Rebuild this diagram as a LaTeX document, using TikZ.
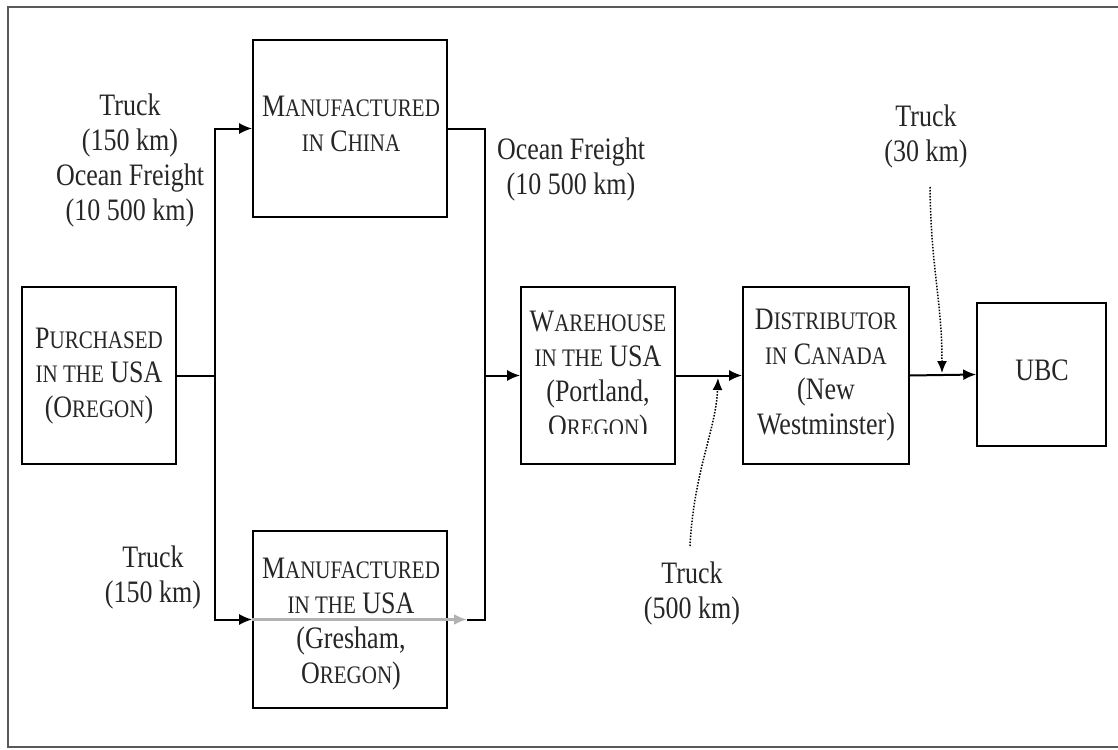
\documentclass[tikz,border=0pt]{standalone}
\usepackage{fontspec}
\setmainfont{Liberation Serif}
\usepackage{graphicx}
\usetikzlibrary{arrows.meta}
\newcommand\stx[1]{\scalebox{1}[1.2]{\fontsize{26}{29}\selectfont\begin{tabular}{@{}c@{}}#1\end{tabular}}}
\newcommand\smc[1]{{\fontsize{21}{29}\selectfont #1}}
\tikzset{
  box/.style={draw, line width=1.6pt, inner sep=0pt},
  lbl/.style={inner sep=0pt, text=black!85},
  conn/.style={line width=2pt},
  arr/.style={conn, -{Latex[length=13pt,width=11pt]}},
  grayarr/.style={line width=2.6pt, draw=black!30, -{Latex[length=13pt,width=11pt]}},
  dotarr/.style={line width=1.5pt, dash pattern=on 1.5pt off 1.5pt, -{Latex[length=12pt,width=10pt]}},
}
\begin{document}
\begin{tikzpicture}[x=1pt,y=-1pt]
\useasboundingbox (0,0) rectangle (1118,749);
\draw[black!65, line width=1.6pt] (8,7) rectangle (1135,747);

% boxes
\node[box, minimum width=154pt, minimum height=177pt] (pur) at (99,375.5) {};
\node[box, minimum width=194pt, minimum height=177pt] (chi) at (350,128.5) {};
\node[box, minimum width=194pt, minimum height=177pt] (usa) at (350,619.5) {};
\node[box, minimum width=154pt, minimum height=177pt] (wh) at (598,375.5) {};
\node[box, minimum width=166pt, minimum height=177pt] (dis) at (826,375.5) {};
\node[box, minimum width=129pt, minimum height=143pt] (ubc) at (1041.5,374.5) {};

% box texts
\node[lbl] (tpur) at (99,376) {\stx{P\smc{URCHASED}\\\smc{IN THE} USA\\(O\smc{REGON})}};
\node[lbl] (tchi) at (351,127) {\stx{M\smc{ANUFACTURED}\\\smc{IN} C\smc{HINA}}};
\node[lbl] (tusa) at (351,624) {\stx{M\smc{ANUFACTURED}\\\smc{IN THE} USA\\(Gresham,\\O\smc{REGON})}};
\begin{scope}
\clip (521,287) rectangle (675,433);
\node[lbl] (twh) at (598,377) {\stx{W\smc{AREHOUSE}\\\smc{IN THE} USA\\(Portland,\\O\smc{REGON})}};
\end{scope}
\node[lbl] (tdis) at (826,375) {\stx{D\smc{ISTRIBUTOR}\\\smc{IN} C\smc{ANADA}\\(New\\Westminster)}};
\node[lbl] (tubc) at (1042,374) {\stx{UBC}};

% labels
\node[lbl] (l1) at (130,161) {\stx{Truck\\(150 km)\\Ocean Freight\\(10 500 km)}};
\node[lbl] (l2) at (571,170) {\stx{Ocean Freight\\(10 500 km)}};
\node[lbl] (l3) at (153,578) {\stx{Truck\\(150 km)}};
\node[lbl] (l4) at (692,594) {\stx{Truck\\(500 km)}};
\node[lbl] (l5) at (926,137) {\stx{Truck\\(30 km)}};

% junctions
\coordinate (jl) at (215,375.5);
\coordinate (jr) at (485,375.5);
\coordinate (gtip) at (467,619.5);
\coordinate (d5s) at (690,546);
\coordinate (d5e) at (718,378);
\coordinate (d30s) at (930,187);
\coordinate (d30e) at (942,373);

% connectors
\draw[conn] (pur.east) -- (jl);
\draw[arr] (jl) |- (chi.west);
\draw[grayarr] (usa.west) -- (gtip);
\draw[arr] (jl) |- (usa.west);
\draw[conn] (chi.east) -| (jr);
\draw[conn] (gtip) -| (jr);
\draw[arr] (jr) -- (wh.west);
\draw[arr] (wh.east) -- (dis.west);
\draw[arr] (dis.east) -- (ubc.west);
\draw[dotarr] (d5s) .. controls (694,470) and (716,430) .. (d5e);
\draw[dotarr] (d30s) .. controls (931,270) and (942,300) .. (d30e);
\end{tikzpicture}
\end{document}
